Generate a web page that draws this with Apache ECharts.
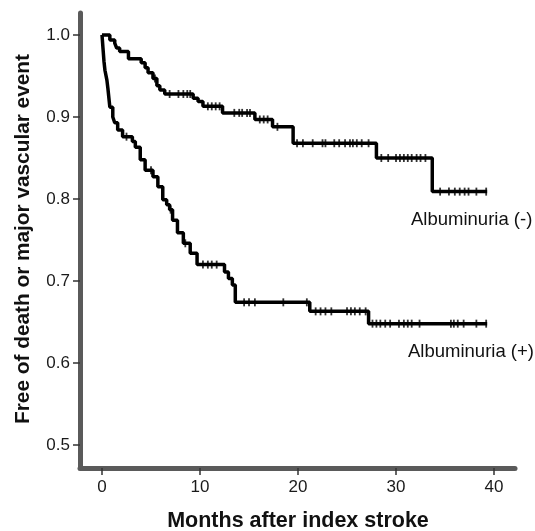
<!DOCTYPE html>
<html>
<head>
<meta charset="utf-8">
<script src="https://cdn.jsdelivr.net/npm/echarts@6/dist/echarts.min.js"></script>
<style>html,body{margin:0;padding:0;background:#fff}#c{width:535px;height:531px}</style>
</head>
<body>
<div id="c"></div>
<script>
// Kaplan-Meier step points [month, survival]
var albNeg = [[0,1.0],[0.8,0.994],[1.3,0.990],[1.5,0.984],[1.8,0.980],[2.7,0.971],[4.0,0.966],[4.4,0.960],[4.7,0.954],[5.2,0.947],[5.6,0.938],[5.9,0.933],[6.4,0.928],[9.3,0.923],[9.8,0.919],[10.3,0.913],[12.3,0.905],[15.6,0.897],[17.4,0.888],[19.5,0.868],[28.0,0.850],[33.7,0.809],[39.3,0.809]];
var albPos = [[0,1.0],[0.1,0.984],[0.2,0.968],[0.3,0.957],[0.5,0.945],[0.6,0.935],[0.8,0.912],[1.1,0.900],[1.3,0.893],[1.6,0.884],[2.1,0.876],[3.1,0.870],[3.4,0.863],[3.9,0.848],[4.4,0.835],[5.2,0.827],[5.7,0.815],[6.2,0.799],[6.6,0.793],[6.9,0.787],[7.2,0.774],[7.7,0.759],[8.3,0.746],[9.0,0.734],[9.7,0.720],[12.5,0.711],[12.9,0.703],[13.3,0.695],[13.6,0.674],[21.2,0.663],[27.2,0.648],[39.3,0.648]];
// censoring times (months)
var censorNeg = [5.4,6.9,7.8,8.3,8.7,9.0,10.8,11.2,11.6,12.0,13.5,14.0,14.3,14.8,15.1,16.1,16.5,16.9,17.9,19.9,20.5,21.5,22.5,22.8,23.7,24.2,24.8,25.3,25.6,26.0,26.5,27.2,28.5,29.2,30.0,30.4,30.8,31.2,31.6,32.1,32.5,33.0,34.5,35.4,36.0,36.5,37.0,37.4,38.2,39.2];
var censorPos = [2.5,5.0,7.0,8.5,10.3,10.8,11.2,11.7,14.5,15.0,15.6,18.5,20.9,21.8,22.3,22.8,23.4,25.0,25.4,25.8,26.3,26.9,27.6,28.0,28.4,28.9,29.4,30.3,30.8,31.2,31.6,32.4,35.6,35.9,36.3,36.9,38.2,39.2];
var xTicks = [0,10,20,30,40];
var yTicks = [0.5,0.6,0.7,0.8,0.9,1.0];
var labelNeg = 'Albuminuria (-)';
var labelPos = 'Albuminuria (+)';
var xTitle = 'Months after index stroke';
var yTitle = 'Free of death or major vascular event';

function survAt(curve, t){
  var v = curve[0][1];
  for (var i=0;i<curve.length;i++){ if (curve[i][0] <= t) v = curve[i][1]; }
  return v;
}
function censorPts(curve, times){ return times.map(function(t){ return [t, survAt(curve,t)]; }); }

var font = '"Liberation Sans", Arial, sans-serif';
var chart = echarts.init(document.getElementById('c'), null, {renderer:'canvas'});
var axisLineStyle = {color:'#5a5a5a', width:5};
chart.setOption({
  animation:false,
  backgroundColor:'#fff',
  grid:{left:80, right:20, top:13, bottom:63, containLabel:false},
  xAxis:{type:'value', min:-2.245, max:42.14,
    axisLine:{show:true, onZero:false, lineStyle:axisLineStyle},
    axisTick:{show:true, length:7, customValues:xTicks, lineStyle:{color:'#333', width:1.5}},
    axisLabel:{customValues:xTicks, fontSize:17, color:'#1a1a1a', fontFamily:font, margin:11},
    splitLine:{show:false}},
  yAxis:{type:'value', min:0.472, max:1.0268,
    axisLine:{show:true, onZero:false, lineStyle:axisLineStyle},
    axisTick:{show:true, length:7, customValues:yTicks, lineStyle:{color:'#333', width:1.5}},
    axisLabel:{customValues:yTicks, fontSize:17, color:'#1a1a1a', fontFamily:font, margin:10,
      formatter:function(v){return v.toFixed(1);}},
    splitLine:{show:false}},
  series:[
    {type:'line', step:'end', data:albNeg, showSymbol:false, lineStyle:{color:'#000', width:3.5}, z:3},
    {type:'line', step:'end', data:albPos, showSymbol:false, lineStyle:{color:'#000', width:3.5}, z:3},
    {type:'scatter', data:censorPts(albNeg, censorNeg), symbol:'rect', symbolSize:[1.8,8], itemStyle:{color:'#000'}, z:4},
    {type:'scatter', data:censorPts(albPos, censorPos), symbol:'rect', symbolSize:[1.8,8], itemStyle:{color:'#000'}, z:4}
  ],
  graphic:[
    {type:'text', left:411, top:210, style:{text:labelNeg, font:'18.5px '+font, fill:'#111'}},
    {type:'text', left:408, top:342, style:{text:labelPos, font:'18.5px '+font, fill:'#111'}},
    {type:'text', x:298, y:521, style:{text:xTitle, font:'bold 21.5px '+font, fill:'#111', align:'center', verticalAlign:'middle'}},
    {type:'text', x:23, y:239, rotation:Math.PI/2, style:{text:yTitle, font:'bold 20.8px '+font, fill:'#111', align:'center', verticalAlign:'middle'}}
  ]
});
</script>
</body>
</html>
